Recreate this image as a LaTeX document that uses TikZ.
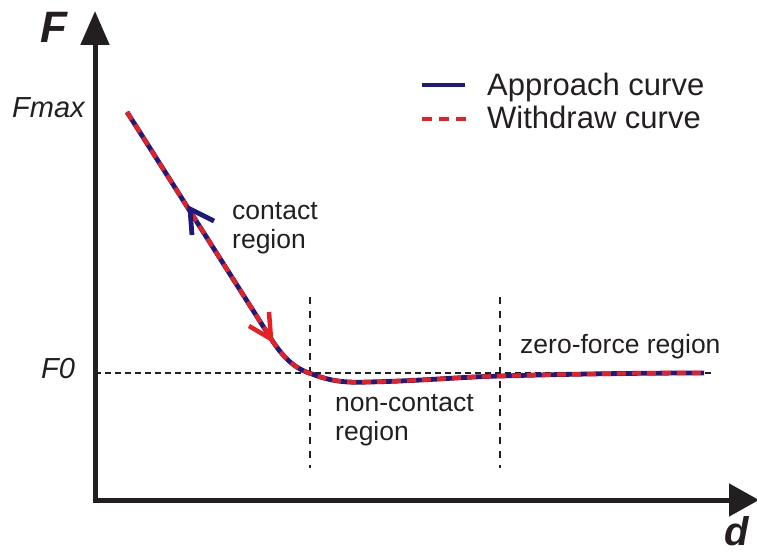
\documentclass[tikz,border=0pt]{standalone}
\usepackage{fontspec}
\setmainfont{Liberation Sans}
\usetikzlibrary{arrows.meta}
\definecolor{ink}{RGB}{35,31,32}
\definecolor{appblue}{RGB}{30,26,125}
\definecolor{wdred}{RGB}{230,32,36}
\tikzset{
  axisline/.style={ink,line width=5pt},
  guide/.style={ink,line width=1.2pt,dash pattern=on 6pt off 4pt},
  vguide/.style={ink,line width=1.1pt,dash pattern=on 7pt off 7pt},
  approach/.style={appblue,line width=4.8pt},
  withdraw/.style={wdred,line width=4.2pt,dash pattern=on 9pt off 6pt},
  lbl/.style={inner sep=0pt,text=ink,font=\fontsize{26.5}{30}\selectfont},
  leg/.style={inner sep=0pt,text=ink,font=\fontsize{31}{34}\selectfont},
  ylbl/.style={inner sep=0pt,text=ink,font=\fontsize{29}{32}\selectfont\itshape},
  axlbl/.style={inner sep=0pt,text=ink,font=\fontsize{44}{46}\selectfont\bfseries\itshape},
}
\begin{document}
\begin{tikzpicture}[x=1pt,y=-1pt]
\useasboundingbox (0,0) rectangle (757,553);
% axes
\coordinate (origin) at (95,500);
\coordinate (ytip) at (95,11);
\coordinate (xtip) at (759,500);
\draw[axisline,-{Triangle[length=34pt,width=28pt]}] ([yshift=-2.5pt]origin) -- (ytip);
\draw[axisline,-{Triangle[length=30pt,width=32pt]}] ([xshift=-2.5pt]origin) -- (xtip);
\node[axlbl,anchor=base west] (Flab) at (40,43) {F};
\node[axlbl,anchor=base west,font=\fontsize{40}{42}\selectfont\bfseries\itshape] (dlab) at (724,545) {d};
% F levels
\node[ylbl,anchor=base west] (Fmax) at (12,118) {Fmax};
\node[ylbl,anchor=base west] (F0) at (41,378) {F0};
\coordinate (g0) at (95,373);
\coordinate (g1) at (713,373);
\draw[guide] (g0) -- (g1);
% vertical region guides
\coordinate (v1a) at (310,297);
\coordinate (v1b) at (310,468);
\coordinate (v2a) at (500,297);
\coordinate (v2b) at (500,468);
\draw[vguide] (v1a) -- (v1b);
\draw[vguide] (v2a) -- (v2b);
% curve
\coordinate (c0) at (127,112);
\coordinate (c1) at (268,334);
\coordinate (c2) at (312,374);
\coordinate (c3) at (368,382);
\coordinate (c4) at (500,376);
\coordinate (c5) at (704,373);
\def\curvepath{(c0) -- (c1) .. controls (284,360) and (296,369) .. (c2) .. controls (330,381) and (345,383) .. (c3) .. controls (420,381) and (460,377) .. (c4) .. controls (570,374) and (640,373) .. (c5)}
\draw[approach] \curvepath;
\draw[withdraw] \curvepath;
% direction marks
\coordinate (bt) at (190,209);
\coordinate (ba1) at (192,235);
\coordinate (ba2) at (214,221);
\draw[approach,line cap=butt] (ba1) -- (bt) -- (ba2);
\coordinate (rt) at (271,339);
\coordinate (ra1) at (269,312);
\coordinate (ra2) at (249,326);
\draw[wdred,line width=4.5pt] (ra1) -- (rt) -- (ra2);
% region labels
\node[lbl,anchor=base west] (contact) at (232,220) {contact};
\node[lbl,anchor=base west] (contact2) at (232,249) {region};
\node[lbl,anchor=base west] (zero) at (520,353) {zero-force region};
\node[lbl,anchor=base west] (non) at (335,411) {non-contact};
\node[lbl,anchor=base west] (non2) at (335,440) {region};
% legend
\coordinate (l1a) at (422,85);
\coordinate (l1b) at (465,85);
\coordinate (l2a) at (422,119);
\coordinate (l2b) at (466,119);
\draw[approach] (l1a) -- (l1b);
\draw[wdred,line width=4.5pt,dash pattern=on 10pt off 7pt] (l2a) -- (l2b);
\node[leg,anchor=base west] (legA) at (487,96) {Approach curve};
\node[leg,anchor=base west] (legW) at (487,129) {Withdraw curve};
\end{tikzpicture}
\end{document}
